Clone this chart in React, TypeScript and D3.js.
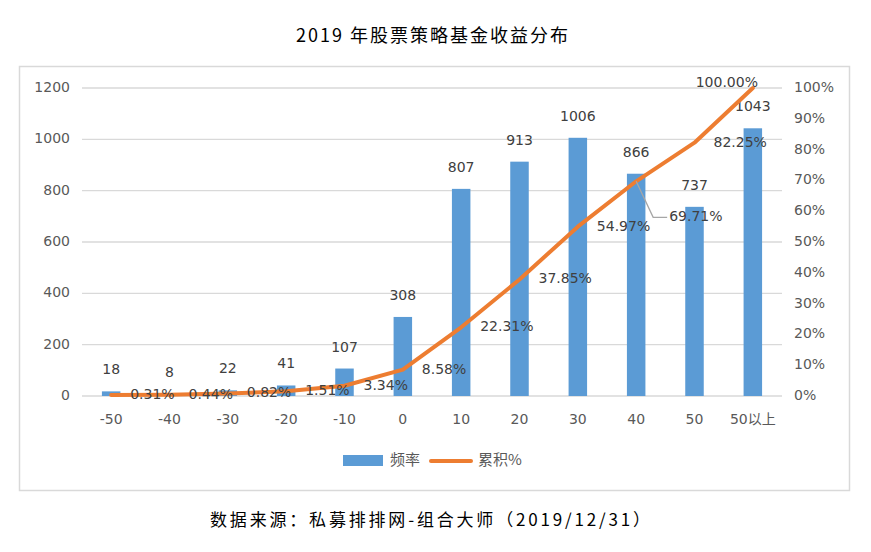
import React from "react";
import * as d3 from "d3";

const categories = ["-50", "-40", "-30", "-20", "-10", "0", "10", "20", "30", "40", "50", "50以上"];
const frequency = [18, 8, 22, 41, 107, 308, 807, 913, 1006, 866, 737, 1043];
const cumulative = [0.31, 0.44, 0.82, 1.51, 3.34, 8.58, 22.31, 37.85, 54.97, 69.71, 82.25, 100.0];
const leftTicks = [0, 200, 400, 600, 800, 1000, 1200];
const rightTicks = [0, 10, 20, 30, 40, 50, 60, 70, 80, 90, 100];

const W = 871;
const H = 552;
const plot = { left: 82, right: 782, top: 88, bottom: 396 };
const FONT = "'DejaVu Sans', 'Noto Sans CJK SC', sans-serif";
const CJK = "'Noto Sans CJK SC', 'DejaVu Sans', sans-serif";

export default function App() {
  const x = d3.scaleBand<string>().domain(categories).range([plot.left, plot.right]).padding(0);
  const yL = d3.scaleLinear().domain([0, 1200]).range([plot.bottom, plot.top]);
  const yR = d3.scaleLinear().domain([0, 100]).range([plot.bottom, plot.top]);
  const cx = (c: string) => (x(c) as number) + x.bandwidth() / 2;
  const barW = 18.5;

  const line = d3
    .line<number>()
    .x((_, i) => cx(categories[i]))
    .y((d) => yR(d));

  const labelPos = (i: number) => {
    const px = cx(categories[i]);
    const py = yR(cumulative[i]);
    if (i === categories.length - 1) return { x: px - 26, y: py - 5, anchor: "middle" };
    if (i === 9) return { x: px + 33, y: py + 36, anchor: "start" };
    return { x: px + 19, y: py, anchor: "start" };
  };

  const p9x = cx(categories[9]);
  const p9y = yR(cumulative[9]);

  return (
    <svg width={W} height={H} style={{ position: "absolute", left: 0, top: 0, background: "#fff" }}>
      <rect x={0} y={0} width={W} height={H} fill="#fff" />
      <text
        x={433}
        y={37}
        textAnchor="middle"
        dominantBaseline="middle"
        fontFamily={CJK}
        fontSize={18}
        letterSpacing={2}
        fill="#000"
      >
        2019 年股票策略基金收益分布
      </text>
      <rect x={19.5} y={66.5} width={830} height={424} fill="none" stroke="#d9d9d9" strokeWidth={1.5} />

      {leftTicks.map((t) => (
        <g key={"g" + t}>
          <line x1={plot.left} x2={plot.right} y1={yL(t)} y2={yL(t)} stroke="#d9d9d9" strokeWidth={1.3} />
          <text x={70} y={yL(t)} textAnchor="end" dominantBaseline="middle" fontFamily={FONT} fontSize={14} fill="#595959">
            {t}
          </text>
        </g>
      ))}
      {rightTicks.map((t) => (
        <text key={"r" + t} x={794} y={yR(t)} textAnchor="start" dominantBaseline="middle" fontFamily={FONT} fontSize={14} fill="#595959">
          {t}%
        </text>
      ))}

      {categories.map((c, i) => (
        <g key={"b" + c}>
          <rect x={cx(c) - barW / 2} y={yL(frequency[i])} width={barW} height={plot.bottom - yL(frequency[i])} fill="#5B9BD5" />
          <text x={cx(c)} y={yL(frequency[i]) - 21} textAnchor="middle" dominantBaseline="middle" fontFamily={FONT} fontSize={14} fill="#404040">
            {frequency[i]}
          </text>
          <text x={cx(c)} y={420} textAnchor="middle" dominantBaseline="middle" fontFamily={FONT} fontSize={14} fill="#595959">
            {c}
          </text>
        </g>
      ))}

      <path d={line(cumulative) || ""} fill="none" stroke="#ED7D31" strokeWidth={4} strokeLinejoin="round" strokeLinecap="round" />

      <polyline
        points={`${p9x},${p9y} ${p9x + 17},${p9y + 36} ${p9x + 31},${p9y + 36}`}
        fill="none"
        stroke="#a6a6a6"
        strokeWidth={1.3}
      />

      {cumulative.map((v, i) => {
        const p = labelPos(i);
        return (
          <text key={"c" + i} x={p.x} y={p.y} textAnchor={p.anchor} dominantBaseline="middle" fontFamily={FONT} fontSize={14} fill="#404040">
            {v.toFixed(2)}%
          </text>
        );
      })}

      <rect x={343} y={455} width={40} height={11} fill="#5B9BD5" />
      <text x={390} y={461} dominantBaseline="middle" fontFamily={CJK} fontSize={15} fill="#595959">
        频率
      </text>
      <line x1={431} x2={471} y1={461} y2={461} stroke="#ED7D31" strokeWidth={4} strokeLinecap="round" />
      <text x={478} y={461} dominantBaseline="middle" fontFamily={CJK} fontSize={15} fill="#595959">
        累积%
      </text>

      <text
        x={210}
        y={521}
        textAnchor="start"
        dominantBaseline="middle"
        fontFamily={CJK}
        fontSize={17}
        fill="#000"
        textLength={440}
        lengthAdjust="spacing"
      >
        数据来源：私募排排网-组合大师（2019/12/31）
      </text>
    </svg>
  );
}
